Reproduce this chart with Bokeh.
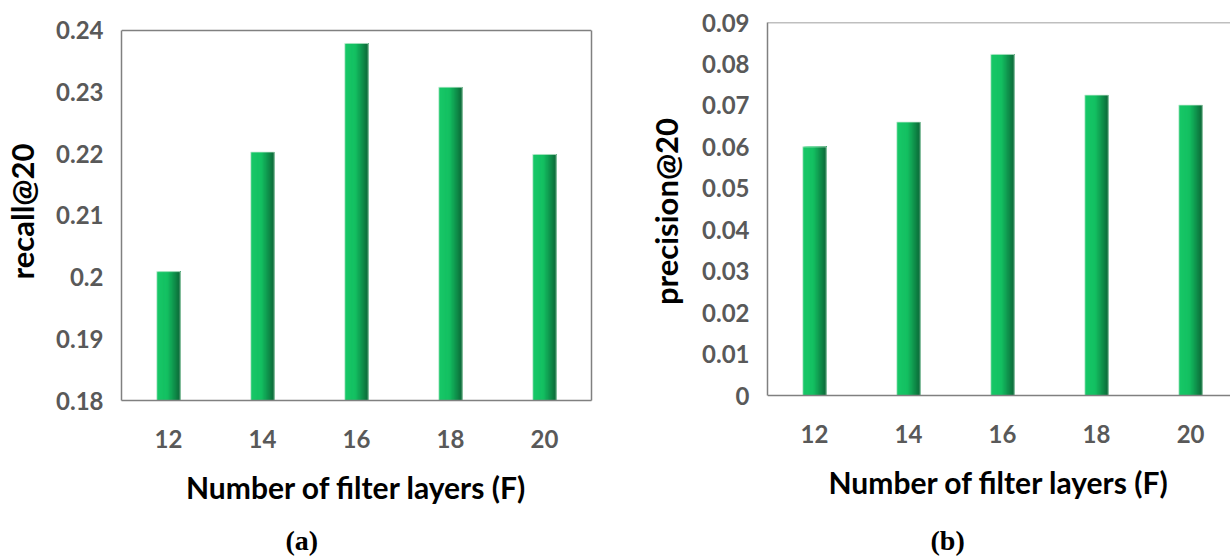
from bokeh.plotting import figure
from bokeh.models import FixedTicker, Range1d, Span, Title, LinearAxis
from bokeh.layouts import row
from bokeh.embed import file_html
from bokeh.resources import INLINE

# ---- data ----
layers = [12, 14, 16, 18, 20]
recall = [0.2009, 0.2203, 0.2379, 0.2308, 0.2199]
precision = [0.0600, 0.0660, 0.0823, 0.0725, 0.0701]
recall_ticks = [0.18, 0.19, 0.20, 0.21, 0.22, 0.23, 0.24]
recall_tick_labels = ["0.18", "0.19", "0.2", "0.21", "0.22", "0.23", "0.24"]
precision_ticks = [0.0, 0.01, 0.02, 0.03, 0.04, 0.05, 0.06, 0.07, 0.08, 0.09]
precision_tick_labels = ["0", "0.01", "0.02", "0.03", "0.04", "0.05", "0.06", "0.07", "0.08", "0.09"]
x_title = "Number of filter layers (F)"

FONT = "Lato"
TICK_COLOR = "#595959"
FRAME_COLOR = "#808080"
BAR_W = 0.5
N_STRIPS = 40
H = 556
TOP = 22          # shared frame top (frames in a row are aligned)
BOTTOM = 155      # shared bottom border


def strip_color(t):
    stops = [(0.0, (24, 200, 104)), (0.45, (20, 192, 98)), (1.0, (12, 104, 56))]
    for (t0, c0), (t1, c1) in zip(stops[:-1], stops[1:]):
        if t <= t1:
            f = (t - t0) / (t1 - t0)
            c = [round(a + (b - a) * f) for a, b in zip(c0, c1)]
            return "#%02x%02x%02x" % tuple(c)
    return "#%02x%02x%02x" % stops[-1][1]


def draw_bars(p, xs, tops, base):
    sw = BAR_W / N_STRIPS
    for k in range(N_STRIPS):
        start = -BAR_W / 2 + k * sw
        w = BAR_W / 2 - start
        p.vbar(x=[x + start + w / 2 for x in xs], top=tops, bottom=base, width=w,
               fill_color=strip_color((k + 0.5) / N_STRIPS), line_color=None)
    p.vbar(x=xs, top=tops, bottom=base, width=BAR_W, fill_color=None,
           line_color="#d3efdd", line_width=0.8)


def style(p, ticks, labels, ylabel, ylabel_standoff, xlabel_standoff):
    p.xgrid.visible = False
    p.ygrid.visible = False
    for ax in (p.xaxis[0], p.yaxis[0]):
        ax.major_tick_line_color = None
        ax.minor_tick_line_color = None
        ax.major_tick_in = 0
        ax.major_tick_out = 0
        ax.axis_line_color = FRAME_COLOR
        ax.axis_line_width = 1.5
        ax.major_label_text_font = FONT
        ax.major_label_text_font_style = "bold"
        ax.major_label_text_font_size = "24px"
        ax.major_label_text_color = TICK_COLOR
        ax.axis_label_text_font = FONT
        ax.axis_label_text_font_style = "bold"
        ax.axis_label_text_color = "#000000"
    p.xaxis[0].ticker = FixedTicker(ticks=layers)
    p.xaxis[0].major_label_standoff = xlabel_standoff
    p.xaxis[0].axis_label = x_title
    p.xaxis[0].axis_label_text_font_size = "30px"
    p.xaxis[0].axis_label_standoff = 18
    p.yaxis[0].ticker = FixedTicker(ticks=ticks)
    p.yaxis[0].major_label_overrides = {t: l for t, l in zip(ticks, labels)}
    p.yaxis[0].major_label_standoff = 18
    p.yaxis[0].bounds = (ticks[0], ticks[-1])
    p.yaxis[0].axis_label = ylabel
    p.yaxis[0].axis_label_text_font_size = "31px"
    p.yaxis[0].axis_label_standoff = ylabel_standoff


def add_caption(p, text, offset, gap):
    # thin spacer panel, then the caption, stacked below the x axis
    p.add_layout(Title(text=" ", text_font_size="1px", standoff=gap), "below")
    p.add_layout(Title(text=text, align="left", offset=offset, text_font="Liberation Serif",
                       text_font_size="28px", text_font_style="bold", text_color="#000000",
                       standoff=2), "below")


# ---- panel (a) ----
a_span = recall_ticks[-1] - recall_ticks[0]
a_top = recall_ticks[-1] + 8 * a_span / 371      # 0.24 sits 8 px below the shared frame top
pa = figure(width=631, height=H, title=None, output_backend="svg", toolbar_location=None,
            x_range=Range1d(11, 21), y_range=Range1d(recall_ticks[0], a_top),
            min_border_left=118, min_border_right=40, min_border_top=TOP,
            min_border_bottom=BOTTOM, outline_line_color=None)
style(pa, recall_ticks, recall_tick_labels, "recall@20", 12, 29)
right_ax = LinearAxis(ticker=FixedTicker(ticks=[]), bounds=(recall_ticks[0], recall_ticks[-1]),
                      axis_line_color=FRAME_COLOR, axis_line_width=1.5,
                      major_tick_line_color=None, minor_tick_line_color=None)
pa.add_layout(right_ax, "right")
pa.add_layout(Span(location=recall_ticks[-1], dimension="width", line_color=FRAME_COLOR,
                   line_width=1.5))
draw_bars(pa, layers, recall, recall_ticks[0])
add_caption(pa, "(a)", 164, 11)

# ---- panel (b) ----
b_span = precision_ticks[-1] - precision_ticks[0]
b_bottom = precision_ticks[0] - 5 * b_span / 374   # 0 sits 5 px above the shared frame bottom
pb = figure(width=599, height=H, title=None, output_backend="svg", toolbar_location=None,
            x_range=Range1d(11, 20.85), y_range=Range1d(b_bottom, precision_ticks[-1]),
            min_border_left=136, min_border_right=0, min_border_top=TOP,
            min_border_bottom=BOTTOM, outline_line_color=None)
style(pb, precision_ticks, precision_tick_labels, "precision@20", 14, 24)
pb.xaxis[0].axis_line_color = None
pb.add_layout(Span(location=precision_ticks[-1], dimension="width", line_color=FRAME_COLOR,
                   line_width=1.5))
pb.add_layout(Span(location=precision_ticks[0], dimension="width", line_color=FRAME_COLOR,
                   line_width=1.5))
draw_bars(pb, layers, precision, precision_ticks[0])
add_caption(pb, "(b)", 163, 16)

layout = row(pa, pb)
open("out.html", "w").write(file_html(layout, INLINE))
